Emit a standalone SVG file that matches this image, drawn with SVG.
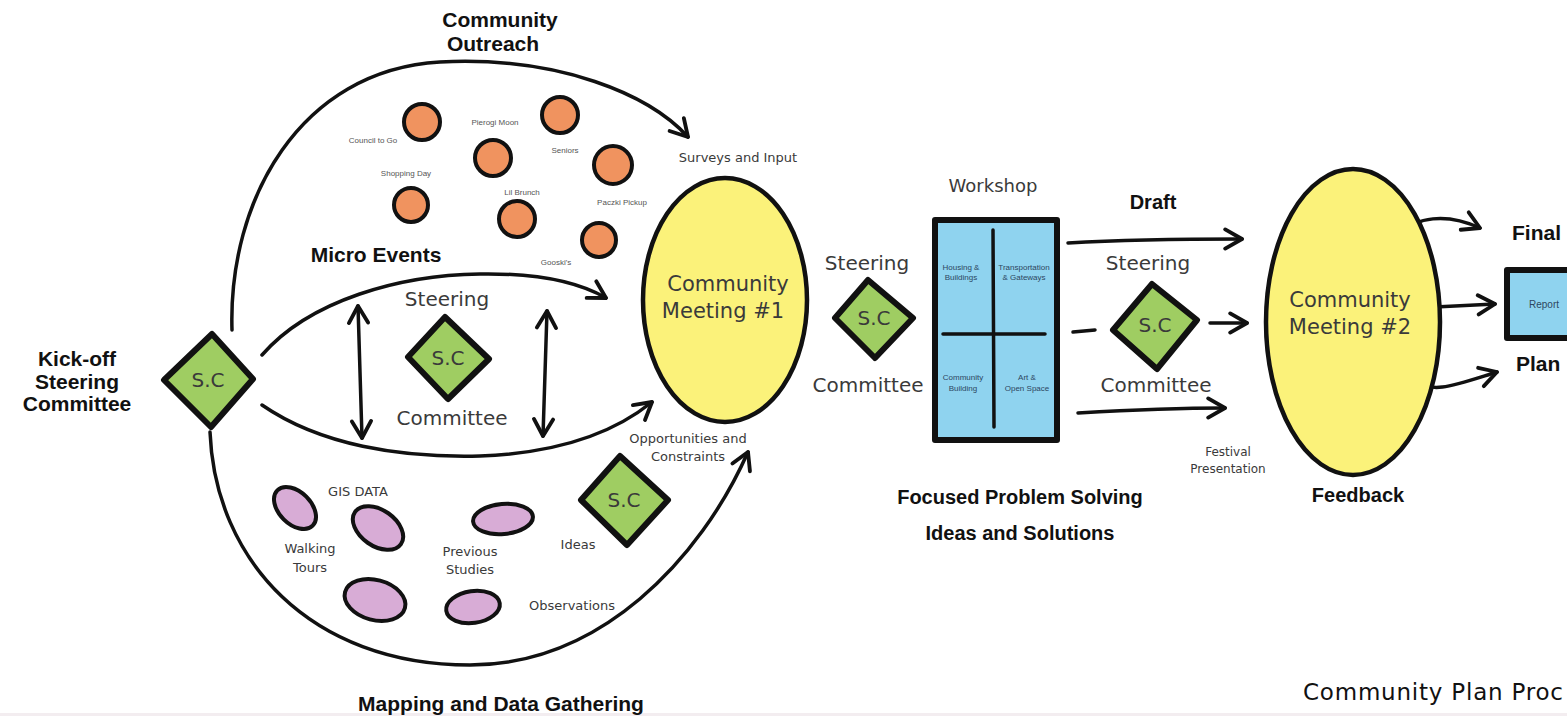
<svg xmlns="http://www.w3.org/2000/svg" width="1567" height="716" viewBox="0 0 1567 716">
<style>
.b{font-family:"Liberation Sans",Arial,sans-serif;font-weight:bold;fill:#111;text-anchor:middle}
.r{font-family:"DejaVu Sans",sans-serif;fill:#3a3a3a;text-anchor:middle}
.s{font-family:"Liberation Sans",Arial,sans-serif;fill:#555;text-anchor:middle;font-size:8px}
.t{font-family:"Liberation Sans",Arial,sans-serif;fill:#2d4660;text-anchor:middle;font-size:8px}
.ln{fill:none;stroke:#111;stroke-width:3.5;stroke-linecap:round}
.sc{fill:#9fcd62;stroke:#111;stroke-width:6;stroke-linejoin:round}
.or{fill:#f0935f;stroke:#111;stroke-width:4}
.pu{fill:#d8acd6;stroke:#111;stroke-width:4}
.ye{fill:#fbf27a;stroke:#111;stroke-width:4.5}
.bl{fill:#8fd3ef;stroke:#111;stroke-width:6;stroke-linejoin:round}
</style>
<defs>
<marker id="ah" viewBox="0 0 20 20" refX="17" refY="10" markerWidth="24" markerHeight="24" markerUnits="userSpaceOnUse" orient="auto-start-reverse">
<path d="M3,2 L17,10 L3,18" fill="none" stroke="#111" stroke-width="3.2" stroke-linecap="round" stroke-linejoin="round"/>
</marker>
</defs>
<rect x="0" y="0" width="1567" height="716" fill="#fff"/>
<rect x="0" y="713" width="1567" height="3" fill="#f3edf0"/>

<g id="connectors">
<path class="ln" d="M232,330 C228,200 300,70 440,62 C560,56 650,95 688,137" marker-end="url(#ah)"/>
<path class="ln" d="M262,355 C310,300 400,275 480,274 C540,273 580,283 606,298" marker-end="url(#ah)"/>
<path class="ln" d="M262,405 C320,445 400,458 480,456 C560,453 615,432 652,402" marker-end="url(#ah)"/>
<path class="ln" d="M210,432 C215,560 310,665 470,665 C600,665 700,560 748,452" marker-end="url(#ah)"/>
<path class="ln" d="M358,306 L362,438" marker-start="url(#ah)" marker-end="url(#ah)"/>
<path class="ln" d="M547,311 L543,436" marker-start="url(#ah)" marker-end="url(#ah)"/>
<path class="ln" d="M1068,243 C1120,240 1180,239 1242,239" marker-end="url(#ah)"/>
<path class="ln" d="M1073,332 L1095,330"/>
<path class="ln" d="M1210,323 L1247,323" marker-end="url(#ah)"/>
<path class="ln" d="M1078,413 C1130,410 1180,408 1225,408" marker-end="url(#ah)"/>
<path class="ln" d="M1403,233 C1415,218 1445,212 1480,228" marker-end="url(#ah)"/>
<path class="ln" d="M1415,308 L1495,304" marker-end="url(#ah)"/>
<path class="ln" d="M1418,380 C1430,395 1455,385 1497,372" marker-end="url(#ah)"/>
</g>

<g id="kickoff">
<text class="b" font-size="21" x="77" y="366">Kick-off</text>
<text class="b" font-size="21" x="77" y="389">Steering</text>
<text class="b" font-size="21" x="77" y="411">Committee</text>
</g>
<g id="sc-left">
<path class="sc" d="M212,334 L253,379 L211,427 L164,380 Z"/>
<text class="r" font-size="20" x="208" y="387">S.C</text>
</g>

<g id="outreach">
<text class="b" font-size="21" x="500" y="27">Community</text>
<text class="b" font-size="21" x="493" y="51">Outreach</text>
</g>

<g id="micro-events">
<circle class="or" cx="422" cy="122" r="18"/>
<circle class="or" cx="493" cy="158" r="18"/>
<circle class="or" cx="560" cy="115" r="18"/>
<circle class="or" cx="613" cy="165" r="19"/>
<circle class="or" cx="411" cy="205" r="17"/>
<circle class="or" cx="517" cy="219" r="18"/>
<circle class="or" cx="599" cy="240" r="17"/>
<text class="s" x="373" y="143">Council to Go</text>
<text class="s" x="495" y="125">Pierogi Moon</text>
<text class="s" x="565" y="153">Seniors</text>
<text class="s" x="406" y="176">Shopping Day</text>
<text class="s" x="522" y="195">Lil Brunch</text>
<text class="s" x="622" y="205">Paczki Pickup</text>
<text class="s" x="556" y="265">Gooski's</text>
<text class="b" font-size="21" x="376" y="262">Micro Events</text>
</g>

<g id="sc-middle">
<text class="r" font-size="20" x="447" y="306">Steering</text>
<path class="sc" d="M445,317 L489,359 L448,399 L408,357 Z"/>
<text class="r" font-size="20" x="448" y="365">S.C</text>
<text class="r" font-size="20" x="452" y="425">Committee</text>
</g>

<g id="meeting1">
<text class="r" font-size="13" x="738" y="162">Surveys and Input</text>
<ellipse class="ye" cx="725" cy="300" rx="82" ry="122"/>
<text class="r" font-size="21" x="728" y="291">Community</text>
<text class="r" font-size="21" x="723" y="318">Meeting #1</text>
<text class="r" font-size="13" x="688" y="443">Opportunities and</text>
<text class="r" font-size="13" x="688" y="461">Constraints</text>
</g>

<g id="mapping">
<ellipse class="pu" cx="295" cy="508" rx="25" ry="16" transform="rotate(45 295 508)"/>
<ellipse class="pu" cx="378" cy="528" rx="28" ry="18" transform="rotate(35 378 528)"/>
<ellipse class="pu" cx="503" cy="519" rx="30" ry="15" transform="rotate(-5 503 519)"/>
<ellipse class="pu" cx="375" cy="600" rx="31" ry="20" transform="rotate(15 375 600)"/>
<ellipse class="pu" cx="473" cy="607" rx="27" ry="16" transform="rotate(-8 473 607)"/>
<text class="r" font-size="13" x="358" y="496">GIS DATA</text>
<text class="r" font-size="13" x="310" y="553">Walking</text>
<text class="r" font-size="13" x="310" y="572">Tours</text>
<text class="r" font-size="13" x="470" y="556">Previous</text>
<text class="r" font-size="13" x="470" y="574">Studies</text>
<text class="r" font-size="13" x="578" y="549">Ideas</text>
<text class="r" font-size="13" x="572" y="610">Observations</text>
<text class="b" font-size="21" x="501" y="711">Mapping and Data Gathering</text>
</g>
<g id="sc-ideas">
<path class="sc" d="M620,456 L668,500 L627,545 L581,500 Z"/>
<text class="r" font-size="20" x="624" y="507">S.C</text>
</g>

<g id="sc-steering1">
<text class="r" font-size="20" x="867" y="270">Steering</text>
<path class="sc" d="M868,280 L913,318 L875,358 L835,318 Z"/>
<text class="r" font-size="20" x="874" y="325">S.C</text>
<text class="r" font-size="20" x="868" y="392">Committee</text>
</g>

<g id="workshop">
<text class="r" font-size="18" x="993" y="192">Workshop</text>
<rect class="bl" x="935" y="220" width="122" height="220"/>
<path class="ln" d="M993,230 L994,427 M943,334 L1045,334" stroke-width="4"/>
<text class="t" x="961" y="270">Housing &amp;</text>
<text class="t" x="961" y="280">Buildings</text>
<text class="t" x="1024" y="270">Transportation</text>
<text class="t" x="1024" y="280">&amp; Gateways</text>
<text class="t" x="963" y="380">Community</text>
<text class="t" x="963" y="391">Building</text>
<text class="t" x="1027" y="380">Art &amp;</text>
<text class="t" x="1027" y="391">Open Space</text>
<text class="b" font-size="20" x="1020" y="504">Focused Problem Solving</text>
<text class="b" font-size="20" x="1020" y="540">Ideas and Solutions</text>
</g>

<g id="draft">
<text class="b" font-size="20" x="1153" y="209">Draft</text>
<text class="r" font-size="20" x="1148" y="270">Steering</text>
<path class="sc" d="M1152,284 L1197,320 L1157,369 L1113,330 Z"/>
<text class="r" font-size="20" x="1155" y="332">S.C</text>
<text class="r" font-size="20" x="1156" y="392">Committee</text>
<text class="r" font-size="12" x="1228" y="456">Festival</text>
<text class="r" font-size="12" x="1228" y="473">Presentation</text>
</g>

<g id="meeting2">
<ellipse class="ye" cx="1353" cy="322" rx="87" ry="153"/>
<text class="r" font-size="21" x="1350" y="307">Community</text>
<text class="r" font-size="21" x="1350" y="334">Meeting #2</text>
<text class="b" font-size="20" x="1358" y="502">Feedback</text>
</g>

<g id="final">
<text class="b" font-size="21" x="1512" y="240" style="text-anchor:start">Final</text>
<rect class="bl" x="1507" y="270" width="80" height="68"/>
<text class="t" x="1544" y="308" style="font-size:10px">Report</text>
<text class="b" font-size="21" x="1516" y="371" style="text-anchor:start">Plan</text>
</g>

<text x="1303" y="700" font-family="DejaVu Sans, sans-serif" font-size="23" fill="#111" textLength="260" lengthAdjust="spacing">Community Plan Proc</text>
</svg>
